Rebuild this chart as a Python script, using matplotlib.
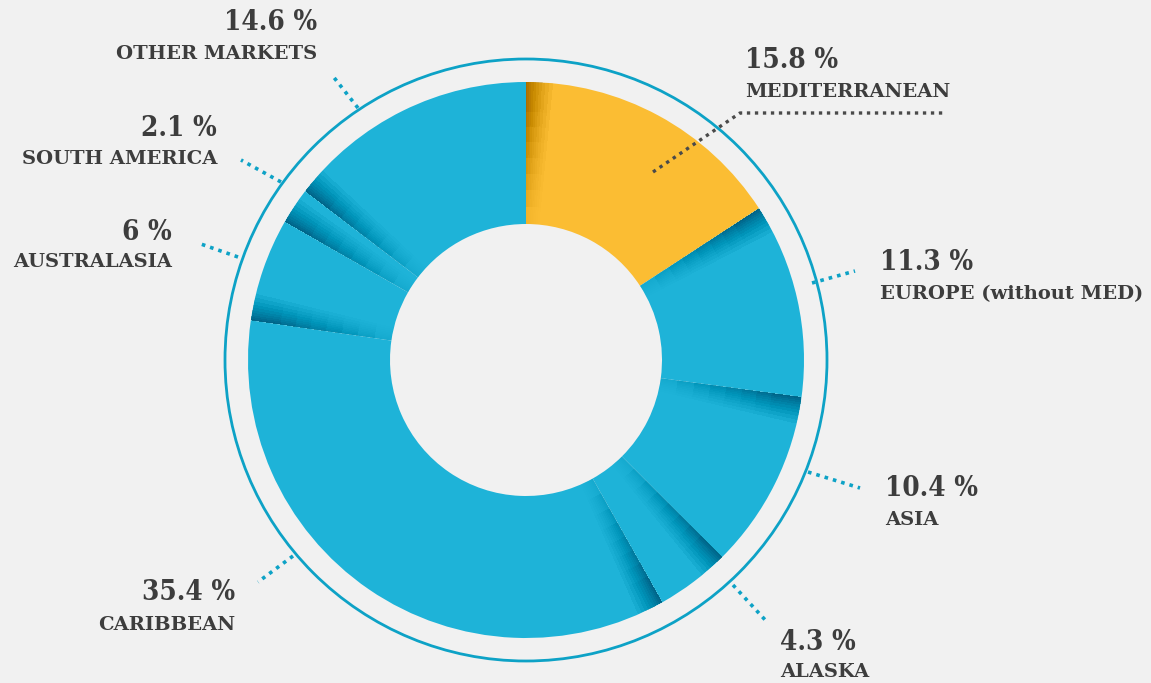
import matplotlib
matplotlib.use('Agg')
import matplotlib.pyplot as plt
from matplotlib.patches import Circle, Wedge

# Market shares, clockwise from 12 o'clock
regions = ['MEDITERRANEAN', 'EUROPE (without MED)', 'ASIA', 'ALASKA',
           'CARIBBEAN', 'AUSTRALASIA', 'SOUTH AMERICA', 'OTHER MARKETS']
shares = [15.8, 11.3, 10.4, 4.3, 35.4, 6, 2.1, 14.6]
share_labels = ['15.8 %', '11.3 %', '10.4 %', '4.3 %', '35.4 %', '6 %', '2.1 %', '14.6 %']

BLUE = '#1eb3d8'
YELLOW = '#fbbd33'
RING = '#0da2c6'
TEXT = '#3d3d3d'
colors = [YELLOW] + [BLUE] * 7

W, H = 1151, 683
fig = plt.figure(figsize=(W / 100, H / 100), dpi=100)
fig.patch.set_facecolor('#f1f1f1')
ax = fig.add_axes([0, 0, 1, 1])

cx, cy = 526, H - 360
R_out, R_in, R_ring = 278, 136, 301

wedges, _ = ax.pie(shares, colors=colors, startangle=90, counterclock=False,
                   center=(cx, cy), radius=R_out, frame=True,
                   wedgeprops=dict(width=R_out - R_in, linewidth=0))
ax.set_xlim(0, W)
ax.set_ylim(0, H)
ax.axis('off')

# soft shadow at the leading edge of each slice, strongest near the rim
spans = [0.3, 0.7, 1.1, 1.6, 2.1, 2.7, 3.3, 4.0, 4.8, 5.6]
depths = [142, 125, 108, 92, 76, 60, 45, 30]
for w in wedges:
    for span in spans:
        for depth in depths:
            ax.add_patch(Wedge((cx, cy), R_out, w.theta2 - span, w.theta2,
                               width=depth, facecolor='black', alpha=0.0055, lw=0))

ax.add_patch(Circle((cx, cy), R_ring, fill=False, edgecolor=RING, lw=2))

dots = (0, (1, 1.4))


def leader(x0, y0, x1, y1, color=RING):
    ax.plot([x0, x1], [H - y0, H - y1], color=color, lw=2.6, linestyle=dots)


def label(i, x, y_pct, y_name, ha):
    ax.text(x, H - y_pct, share_labels[i], ha=ha, va='center', color=TEXT,
            fontsize=20, fontweight='bold', family='DejaVu Serif',
            fontstretch='condensed')
    ax.text(x, H - y_name, regions[i], ha=ha, va='center', color=TEXT,
            fontsize=14, fontweight='bold', family='DejaVu Serif')


# Mediterranean leader (dark, with a horizontal tail)
ax.plot([653, 740, 943], [H - 172, H - 113, H - 113], color='#4a4a4a', lw=2.4,
        linestyle=dots)

leader(812, 283, 855, 271)
leader(808, 472, 860, 488)
leader(733, 585, 768, 623)
leader(293, 556, 258, 582)
leader(238, 257, 198, 243)
leader(281, 182, 241, 160)
leader(358, 108, 332, 75)

label(0, 745, 61, 92, 'left')
label(1, 880, 262, 294, 'left')
label(2, 885, 489, 520, 'left')
label(3, 780, 642, 672, 'left')
label(4, 235, 593, 625, 'right')
label(5, 172, 233, 262, 'right')
label(6, 217, 128, 159, 'right')
label(7, 317, 22, 54, 'right')

fig.savefig('out.png', dpi=100, facecolor=fig.get_facecolor())
